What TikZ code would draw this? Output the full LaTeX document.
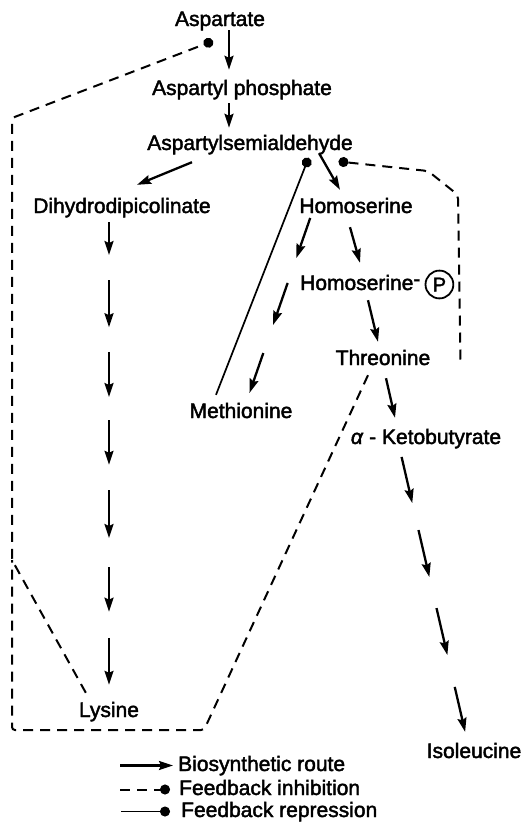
\documentclass[tikz,border=0pt]{standalone}
\usepackage{fontspec}
\setmainfont{Liberation Sans}[FakeBold=2]
\usetikzlibrary{arrows.meta,calc,positioning}
\begin{document}
\begin{tikzpicture}[x=1pt, y=-1pt,
  every node/.style={font=\fontsize{21}{25}\selectfont, inner sep=0pt, text height=15pt, text depth=4pt, anchor=base},
  arr/.style={line width=2.3pt, -{Stealth[length=14pt,width=9pt,inset=2pt]}},
  fb/.style={line width=2pt, dash pattern=on 10pt off 7pt},
  inh/.style={fb, -{Circle[length=10pt]}},
  rep/.style={line width=1.7pt, -{Circle[length=10pt]}}]
\useasboundingbox (0,0) rectangle (520,825);
\node (asp) at (220,26) {Aspartate};
\node (aspp) at (242,95) {Aspartyl phosphate};
\node (asa) at (250,150) {Aspartylsemialdehyde};
\node (dhdp) at (122,213) {Dihydrodipicolinate};
\node (hom) at (356,213) {Homoserine};
\node[anchor=base west] (hsp) at (300,290) {Homoserine\raisebox{4pt}{-}};
\node[circle, draw, line width=1.8pt, anchor=west, text height=14pt, text depth=0pt, inner sep=3pt, font=\fontsize{20}{20}\selectfont, right=4pt of hsp] (pc) {P};
\node (thr) at (383,365) {Threonine};
\node (met) at (241,418) {Methionine};
\node (kb) at (426,444) {\textit{α} - Ketobutyrate};
\node (lys) at (109,717) {Lysine};
\node (ile) at (474,758) {Isoleucine};
\draw[arr] ([xshift=9pt]asp.south) -- ([xshift=-13pt,yshift=10pt]aspp.north);
\draw[arr] ([xshift=-13pt,yshift=-4pt]aspp.south) -- ([xshift=-21pt,yshift=7pt]asa.north);
\draw[arr] ([xshift=-58pt,yshift=-8pt]asa.south) -- ([xshift=15pt,yshift=13pt]dhdp.north);
\draw[arr] ([xshift=69pt,yshift=1pt]asa.south) -- ([xshift=-16pt,yshift=8pt]hom.north);
\draw[arr] ([xshift=-6pt,yshift=-10pt]hom.south) -- ([xshift=60pt,yshift=12pt]hsp.north west);
\draw[arr] ([xshift=68pt,yshift=-6pt]hsp.south west) -- ([xshift=-5pt,yshift=8pt]thr.north);
\draw[arr] ([xshift=3pt,yshift=-9pt]thr.south) -- ([xshift=-31pt,yshift=11pt]kb.north);
\coordinate (ly1) at (lys |- dhdp.south);
\foreach \a/\b in {.010/.078,.130/.227,.278/.371,.419/.511,.563/.662,.722/.814,.868/.965}
  \draw[arr] ($(ly1)!\a!(lys.north)$) -- ($(ly1)!\b!(lys.north)$);
\coordinate (me1) at (313,210);
\coordinate (me2) at (247,400);
\foreach \a/\b in {.042/.253,.384/.605,.753/.963}
  \draw[arr] ($(me1)!\a!(me2)$) -- ($(me1)!\b!(me2)$);
\coordinate (il1) at (400,450);
\coordinate (il2) at (467,740);
\foreach \a/\b in {.024/.183,.276/.438,.545/.707,.817/.972}
  \draw[arr] ($(il1)!\a!(il2)$) -- ($(il1)!\b!(il2)$);
\coordinate (ak) at (213,41);
\coordinate (hd1) at (308.6,157.8);
\coordinate (hd2) at (338.5,161.5);
\coordinate (lj) at (12,560);
\coordinate (ltop) at (12,118);
\coordinate (lbot) at (12,730);
\coordinate (tb) at (204,730);
\coordinate (rb) at (458,195);
\coordinate (rt) at (428,171);
\draw[inh, rounded corners=3pt] ([shift={(7pt,9pt)}]lys.north west) -- (lj) -- (ltop) -- (ak);
\draw[fb, rounded corners=3pt] ([shift={(-15pt,-6pt)}]thr.south) -- (tb) -- (lbot) -- (lj);
\draw[inh, rounded corners=4pt] ([xshift=30pt]thr.east) -- (rb) -- (rt) -- (hd2);
\draw[rep] ([shift={(-25pt,8pt)}]met.north) -- (hd1);
\node[anchor=base west] (lg1) at (178,771) {Biosynthetic route};
\node[anchor=base west] (lg2) at (179,795) {Feedback inhibition};
\node[anchor=base west] (lg3) at (181,817) {Feedback repression};
\draw[arr] ([xshift=-58pt]lg1.west) -- ([xshift=-5pt]lg1.west);
\draw[inh] ([xshift=-59pt]lg2.west) -- ([xshift=-9pt]lg2.west);
\draw[rep] ([xshift=-60pt]lg3.west) -- ([xshift=-11pt]lg3.west);
\end{tikzpicture}
\end{document}
